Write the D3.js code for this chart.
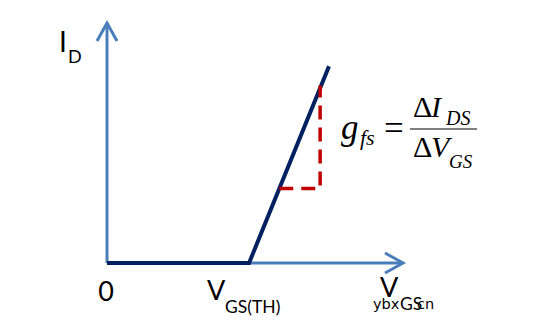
<!DOCTYPE html>
<html><head><meta charset="utf-8">
<script src="https://cdn.jsdelivr.net/npm/d3@7"></script>
<style>html,body{margin:0;padding:0;background:#fff;}svg{display:block;}</style>
</head><body>
<svg id="chart" width="551" height="334"></svg>
<script>
// Transfer characteristic (arbitrary units)
const curveVgs = [0, 4.8, 7.5];
const curveId = [0, 0, 8.2];
// Delta triangle (dashed)
const deltaVgs = [5.82, 7.2, 7.2];
const deltaId = [3.1, 3.1, 7.4];
// Axis extents
const axisMax = 10;
const tickLabels = ["0"];

const svg = d3.select("#chart");
const x = d3.scaleLinear().domain([0, axisMax]).range([107, 403]);
const y = d3.scaleLinear().domain([0, axisMax]).range([263, 23]);

const axisColor = "#4A7EBB";
const line = d3.line().x(d => x(d[0])).y(d => y(d[1]));

// axes
svg.append("path").attr("d", line([[0,0],[0,axisMax]]))
  .attr("stroke", axisColor).attr("stroke-width", 3).attr("fill","none");
svg.append("path").attr("d", line([[0,0],[axisMax,0]]))
  .attr("stroke", axisColor).attr("stroke-width", 3).attr("fill","none");
// arrowheads
svg.append("path").attr("d", `M${x(0)-10},${y(axisMax)+18}L${x(0)},${y(axisMax)}L${x(0)+10},${y(axisMax)+18}`)
  .attr("stroke", axisColor).attr("stroke-width", 3).attr("fill","none");
svg.append("path").attr("d", `M${x(axisMax)-18},${y(0)-10}L${x(axisMax)},${y(0)}L${x(axisMax)-18},${y(0)+10}`)
  .attr("stroke", axisColor).attr("stroke-width", 3).attr("fill","none");

// curve
svg.append("path").attr("d", line(curveVgs.map((v,i)=>[v, curveId[i]])))
  .attr("stroke", "#002060").attr("stroke-width", 4).attr("fill","none")
  .attr("stroke-linejoin","miter");

// dashed triangle
svg.append("path").attr("d", line(deltaVgs.map((v,i)=>[v, deltaId[i]])))
  .attr("stroke", "#C00000").attr("stroke-width", 3.5).attr("fill","none")
  .attr("stroke-dasharray","14,8");

const sans = "Lato, 'Open Sans', sans-serif";
// I_D
svg.append("text").attr("x", 59).attr("y", 52).attr("font-family", sans).attr("font-size", 28).text("I");
svg.append("text").attr("x", 68).attr("y", 63).attr("font-family", sans).attr("font-size", 18).text("D");

// 0
svg.append("text").attr("x", x(0)-1).attr("y", 301).attr("text-anchor","middle")
  .attr("font-family", sans).attr("font-size", 27).text(tickLabels[0]);

// V_GS(TH)
svg.append("text").attr("x", 207).attr("y", 300).attr("font-family", sans).attr("font-size", 27).text("V");
svg.append("text").attr("x", 225).attr("y", 313).attr("font-family", sans).attr("font-size", 17.5).text("GS(TH)");

// V_GS axis label
svg.append("text").attr("x", 380).attr("y", 297).attr("font-family", sans).attr("font-size", 27).text("V");
svg.append("text").attr("x", 400).attr("y", 310).attr("font-family", sans).attr("font-size", 17.5).text("GS");

// watermark
const wm = "'DejaVu Sans', 'Liberation Sans', sans-serif";
svg.append("text").attr("x", 373).attr("y", 309).attr("font-family", wm)
  .attr("font-size", 14.5).attr("fill","#000").text("ybx");
svg.append("text").attr("x", 417).attr("y", 309).attr("font-family", wm)
  .attr("font-size", 14.5).attr("fill","#000").text("cn");

// formula
const serif = "'Liberation Serif', 'Times New Roman', serif";
svg.append("text").attr("x", 341).attr("y", 139).attr("font-family", serif).attr("font-size", 35).attr("font-style","italic").text("g");
svg.append("text").attr("x", 360).attr("y", 145).attr("font-family", serif).attr("font-size", 22).attr("font-style","italic").text("fs");
svg.append("text").attr("x", 384).attr("y", 140).attr("font-family", serif).attr("font-size", 35).text("=");
svg.append("line").attr("x1", 410).attr("x2", 477).attr("y1", 129).attr("y2", 129)
  .attr("stroke","#555").attr("stroke-width",1.5);
svg.append("text").attr("x", 413).attr("y", 117).attr("font-family", serif).attr("font-size", 30).text("Δ");
svg.append("text").attr("x", 431).attr("y", 117).attr("font-family", serif).attr("font-size", 30).attr("font-style","italic").text("I");
svg.append("text").attr("x", 446).attr("y", 125).attr("font-family", serif).attr("font-size", 20).attr("font-style","italic").text("DS");
svg.append("text").attr("x", 413).attr("y", 157).attr("font-family", serif).attr("font-size", 30).text("Δ");
svg.append("text").attr("x", 431).attr("y", 157).attr("font-family", serif).attr("font-size", 30).attr("font-style","italic").text("V");
svg.append("text").attr("x", 449).attr("y", 168).attr("font-family", serif).attr("font-size", 19).attr("font-style","italic").text("GS");
</script>
</body></html>
